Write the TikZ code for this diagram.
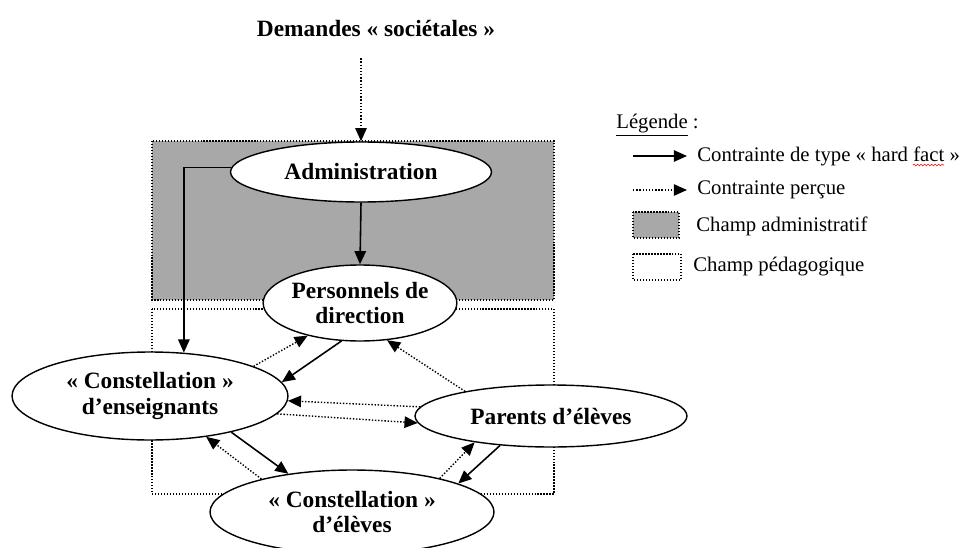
\documentclass[tikz,border=0pt]{standalone}
\usepackage{fontspec}
\setmainfont{Liberation Serif}
\usetikzlibrary{shapes.geometric,arrows.meta,decorations.pathmorphing}
\definecolor{champgris}{RGB}{168,168,168}

\begin{document}
\begin{tikzpicture}[x=.02cm, y=-.02cm, >={Triangle[length=7.5pt,width=6.5pt]},
    bulle/.style={draw, ellipse, fill=white, line width=.8pt, inner sep=0pt, align=center,
        font=\fontsize{13.3}{14.5}\selectfont\bfseries},
    dur/.style={->, line width=.9pt},
    percu/.style={->, densely dotted, line width=.8pt},
    champ/.style={densely dotted, line width=.7pt},
    leg/.style={anchor=west, inner sep=0pt, font=\fontsize{11.8}{14}\selectfont}]
\clip (0,0) rectangle (962,547);

\draw[champ, fill=champgris] (152,141) rectangle (554,300);
\draw[champ] (152,309) rectangle (554,494);

\node[font=\fontsize{13.3}{16}\selectfont\bfseries] (titre) at (376,28) {Demandes « sociétales »};
\node[bulle, minimum width=5.22cm, minimum height=1.2cm] (admin) at (361,172) {Administration};
\node[bulle, minimum width=3.78cm, minimum height=1.52cm] (perso) at (360,303) {Personnels de\\direction};
\node[bulle, minimum width=5.52cm, minimum height=1.76cm] (ens) at (150,396) {« Constellation »\\d’enseignants};
\node[bulle, minimum width=5.44cm, minimum height=1.24cm] (parents) at (551,416) {Parents d’élèves};
\node[bulle, minimum width=5.68cm, minimum height=1.68cm] (eleves) at (352,512) {« Constellation »\\d’élèves};

\draw[percu, shorten <=9pt] (titre.south -| admin.north) -- (admin.north);
\draw[dur] (admin.south) -- (perso.north);
\draw[dur] (admin.178) -| (ens.52);
\foreach \a/\b in {perso.244/ens.6, ens.336/eleves.149, parents.210/eleves.15}
{
\draw[dur] (\a) -- (\b);
}
\foreach \a/\b in {ens.16/perso.212, parents.164/perso.306, parents.176/ens.358,
    ens.352/parents.183, eleves.160/ens.324, eleves.21/parents.199}
{
\draw[percu] (\a) -- (\b);
}

\node[leg] (legende) at (616,125) {\underline{Légende} :};
\node[leg] (dur) at (697,156) {Contrainte de type « hard fact »};
\node[leg] (percu) at (697,190) {Contrainte perçue};
\node[leg] (admi) at (696,226) {Champ administratif};
\node[leg] (peda) at (693,267) {Champ pédagogique};
\draw[dur] ([xshift=-1.28cm]dur.west) -- ([xshift=-.2cm]dur.west);
\draw[percu] ([xshift=-1.28cm]percu.west) -- ([xshift=-.2cm]percu.west);
\draw[champ, fill=champgris] (633,212) rectangle (679,238);
\draw[champ] (633,254) rectangle (681,280);
\draw[red, line width=.3pt, decorate, decoration={snake, amplitude=.5pt, segment length=2pt}]
    (913,165) -- (944,165);
\end{tikzpicture}
\end{document}
